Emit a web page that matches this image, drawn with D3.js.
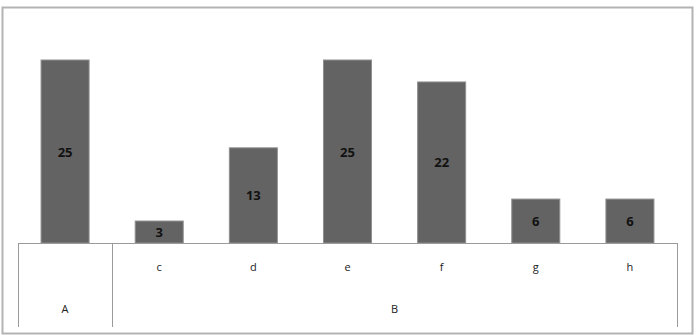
<!DOCTYPE html>
<html>
<head>
<script src="https://cdn.jsdelivr.net/npm/d3@7"></script>
<style>
  body { margin: 0; background: #fff; }
  text { font-family: "Open Sans", "DejaVu Sans", sans-serif; }
</style>
</head>
<body>
<svg id="chart" width="697" height="335"></svg>
<script>
var categories = ['A', 'c', 'd', 'e', 'f', 'g', 'h'];
var values = [25, 3, 13, 25, 22, 6, 6];
var groups = [
  { name: 'A', members: ['A'], showTick: false },
  { name: 'B', members: ['c', 'd', 'e', 'f', 'g', 'h'], showTick: true }
];

var svg = d3.select('#chart');
var left = 18, right = 677, axisY = 243, bottomY = 327;

// outer frame
svg.append('rect')
  .attr('x', 2.5).attr('y', 7.5)
  .attr('width', 690).attr('height', 326)
  .attr('fill', '#fff')
  .attr('stroke', '#b3b3b3')
  .attr('stroke-width', 2);

var x = d3.scaleBand()
  .domain(categories)
  .range([left, right])
  .paddingInner(0.49)
  .paddingOuter(0.245);

var y = d3.scaleLinear()
  .domain([0, 25])
  .range([axisY, 60]);

svg.selectAll('.bar')
  .data(values)
  .enter()
  .append('rect')
  .attr('class', 'bar')
  .attr('x', (d, i) => x(categories[i]))
  .attr('y', d => y(d))
  .attr('width', x.bandwidth())
  .attr('height', d => axisY - y(d))
  .attr('fill', '#636363')
  .attr('stroke', '#8f8f8f')
  .attr('stroke-width', 1);

svg.selectAll('.val')
  .data(values)
  .enter()
  .append('text')
  .attr('x', (d, i) => x(categories[i]) + x.bandwidth() / 2)
  .attr('y', d => (y(d) + axisY) / 2 + 5)
  .attr('text-anchor', 'middle')
  .attr('font-size', 13)
  .attr('font-weight', 'bold')
  .attr('fill', '#111')
  .text(d => d);

// axis line
svg.append('line')
  .attr('x1', left).attr('x2', right)
  .attr('y1', axisY + 0.5).attr('y2', axisY + 0.5)
  .attr('stroke', '#9a9a9a');

// group separators and labels
var step = x.step();
var pos = left;
var bounds = [left];
groups.forEach(g => {
  var start = pos;
  var end = pos + step * g.members.length;
  bounds.push(end);
  svg.append('text')
    .attr('x', (start + end) / 2)
    .attr('y', 313)
    .attr('text-anchor', 'middle')
    .attr('font-size', 11)
    .attr('fill', '#222')
    .text(g.name);
  if (g.showTick) {
    g.members.forEach(m => {
      svg.append('text')
        .attr('x', x(m) + x.bandwidth() / 2)
        .attr('y', 271)
        .attr('text-anchor', 'middle')
        .attr('font-size', 11)
        .attr('fill', '#222')
        .text(m);
    });
  }
  pos = end;
});

svg.selectAll('.sep')
  .data(bounds)
  .enter()
  .append('line')
  .attr('x1', d => Math.round(d) + 0.5).attr('x2', d => Math.round(d) + 0.5)
  .attr('y1', axisY).attr('y2', bottomY)
  .attr('stroke', '#9a9a9a');
</script>
</body>
</html>
